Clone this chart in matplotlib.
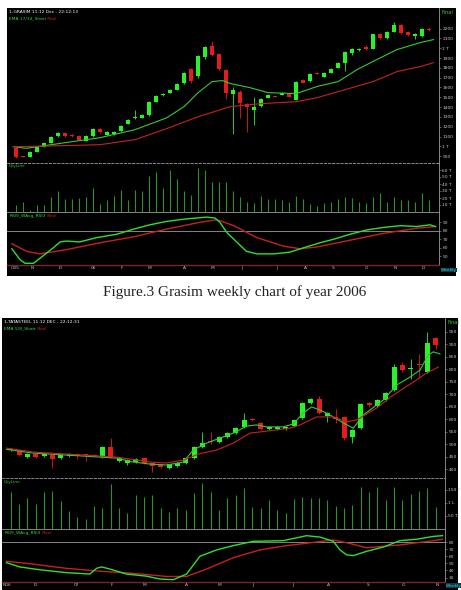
import numpy as np
import matplotlib.pyplot as plt

# %% data
# Grasim (top chart), 60 weeks
g_open = [986, 900, 894, 945, 996, 1037, 1108, 1139, 1120, 1108, 1058, 1108, 1180, 1120, 1125,
          1160, 1230, 1285, 1290, 1320, 1455, 1525, 1547, 1578, 1650, 1790, 1720, 1915, 2026, 1945,
          1780, 1530, 1557, 1435, 1374, 1415, 1496, 1515, 1527, 1537, 1476, 1680, 1670, 1752, 1710,
          1750, 1800, 1853, 1955, 1982, 2010, 1995, 2150, 2100, 2170, 2240, 2170, 2120, 2120, 2192]
g_close = [894, 893, 945, 996, 1037, 1098, 1139, 1108, 1108, 1068, 1108, 1180, 1150, 1150, 1150,
           1210, 1270, 1295, 1320, 1455, 1515, 1535, 1578, 1640, 1750, 1670, 1925, 2015, 1935, 1790,
           1547, 1570, 1445, 1405, 1405, 1486, 1527, 1505, 1547, 1506, 1660, 1650, 1740, 1740, 1750,
           1790, 1853, 1965, 1995, 1988, 1990, 2140, 2100, 2170, 2240, 2160, 2130, 2150, 2200, 2182]
g_high = [1000, 905, 950, 1000, 1045, 1105, 1150, 1145, 1125, 1112, 1112, 1185, 1190, 1155, 1155,
          1215, 1275, 1370, 1330, 1460, 1520, 1545, 1585, 1645, 1760, 1800, 1935, 2025, 2070, 1955,
          1790, 1600, 1570, 1440, 1500, 1495, 1535, 1520, 1555, 1545, 1670, 1690, 1745, 1760, 1755,
          1795, 1860, 1970, 2000, 2000, 2030, 2145, 2160, 2180, 2270, 2245, 2180, 2155, 2210, 2215]
g_low = [880, 888, 890, 940, 990, 1030, 1100, 1100, 1100, 1060, 1050, 1100, 1140, 1115, 1120,
         1150, 1225, 1280, 1285, 1310, 1450, 1515, 1540, 1570, 1640, 1650, 1700, 1890, 1925, 1780,
         1480, 1130, 1290, 1150, 1220, 1405, 1490, 1500, 1520, 1500, 1470, 1645, 1660, 1735, 1705,
         1745, 1795, 1770, 1930, 1975, 1985, 1990, 2095, 2095, 2165, 2140, 2120, 2090, 2115, 2180]
g_vol = [10, 14, 3, 10, 10, 21, 30, 18, 18, 20, 22, 34, 12, 17, 23, 32, 17, 32, 30, 52,
         57, 34, 60, 47, 30, 24, 63, 60, 43, 43, 43, 30, 21, 15, 13, 23, 18, 19, 17, 15,
         23, 18, 12, 9, 13, 14, 19, 22, 20, 14, 13, 21, 27, 14, 21, 17, 17, 15, 27, 17]
g_ema_s_wk = [-0.4, 1.5, 7, 12, 17, 21.5, 24, 26, 28, 29.5, 30.6, 33.4, 36, 40, 43, 46, 48.7, 51.5, 54.4, 57.7, 59.6]
g_ema_s = [996, 980, 1037, 1088, 1170, 1290, 1405, 1547, 1660, 1670, 1640, 1598, 1547, 1537, 1610, 1660, 1782, 1884, 1986, 2057, 2088]
g_ema_l_wk = [-0.4, 7, 12, 17, 21.5, 26, 30.6, 35, 40, 43, 47, 51, 54.4, 57.7, 59.6]
g_ema_l = [996, 1007, 1017, 1068, 1180, 1302, 1405, 1435, 1455, 1496, 1578, 1660, 1762, 1812, 1853]
g_rsi_wk = [-0.6, 0.6, 1.3, 2.5, 3.9, 5.3, 6.3, 7.2, 9.1, 11.5, 14.4, 16.8, 19.1, 21.5, 24.4, 27.2, 28.4,
            29.1, 30.1, 31.5, 32.9, 34.4, 36.8, 39.1, 41.0, 43.4, 45.3, 47.7, 50.1, 52.5, 54.9, 57.2, 59.1, 59.9]
g_rsi = [59, 46, 42, 42, 51, 60, 67, 68, 67, 72, 76, 82, 87, 91, 94, 96, 95,
         90, 78, 67, 56, 53, 53, 55, 60, 66, 70, 76, 81, 84, 86, 85, 87, 85]
g_avg_wk = [-0.6, 1.5, 3.4, 7.2, 12, 16.8, 21.5, 26.3, 28.7, 31.1, 34.4, 38.2, 40.6, 42.9, 47.7, 52.5, 57.2, 59.9]
g_avg = [65, 56, 53, 58, 66, 73, 82, 90, 93, 86, 72, 62, 59, 61, 69, 77, 83, 85]
g_month_wk = [-0.1, 2.3, 6.3, 11.0, 15.1, 19.1, 24.1, 28.1, 32.3, 37.3, 41.3, 45.3, 50.1, 54.1, 58.1]
g_months = ["O05", "N", "D", "06", "F", "M", "A", "M", "J", "J", "A", "S", "O", "N", "D"]

# Tata Steel (bottom chart), 52 weeks
t_open = [475, 476, 450, 462, 452, 458, 446, 452, 462, 458, 458, 448, 488, 432, 424, 428, 444, 424,
          420, 404, 412, 424, 444, 488, 512, 508, 528, 544, 568, 602, 585, 560, 560, 562, 573, 605,
          665, 681, 613, 610, 609, 528, 564, 665, 653, 677, 717, 817, 803, 822, 789, 926]
t_close = [481, 456, 462, 450, 460, 442, 458, 462, 452, 455, 453, 488, 448, 444, 436, 440, 424, 414,
           410, 420, 426, 444, 490, 504, 508, 528, 544, 564, 597, 598, 560, 570, 570, 570, 597, 665,
           681, 625, 625, 602, 524, 556, 661, 655, 677, 705, 809, 797, 807, 818, 906, 898]
t_high = [484, 478, 464, 464, 466, 460, 460, 464, 464, 460, 460, 492, 524, 448, 440, 444, 446, 426,
          422, 422, 428, 446, 494, 548, 548, 532, 548, 568, 625, 606, 590, 574, 574, 574, 600, 668,
          686, 694, 630, 640, 612, 560, 665, 668, 682, 710, 820, 830, 840, 860, 950, 930]
t_low = [472, 452, 446, 446, 448, 404, 442, 448, 440, 432, 448, 446, 444, 428, 416, 424, 420, 390,
         406, 400, 408, 420, 440, 484, 500, 504, 524, 540, 564, 594, 556, 556, 556, 558, 570, 600,
         660, 620, 590, 585, 515, 505, 560, 650, 650, 673, 712, 790, 760, 770, 785, 880]
t_vol = [141, 96, 118, 96, 142, 146, 109, 69, 47, 38, 88, 79, 173, 82, 63, 129, 123, 132, 79, 65,
         79, 73, 137, 176, 142, 73, 118, 129, 158, 85, 79, 112, 73, 63, 115, 122, 118, 118, 110, 90,
         81, 92, 160, 141, 160, 110, 163, 112, 135, 145, 156, 83]
t_ema_s_wk = [-0.5, 2.7, 6.7, 10.7, 12.7, 14.7, 16.7, 18.7, 20.7, 21.9, 23.5, 25.1, 26.7, 28.3, 29.5, 30.7,
              32.7, 33.9, 35.1, 36.1, 37.1, 38.3, 39.9, 41.1, 42.3, 44.7, 46.3, 47.9, 49.1, 50.1, 50.7, 51.5]
t_ema_s = [479, 464, 456, 448, 444, 428, 420, 416, 428, 476, 504, 524, 544, 572, 577, 569,
           569, 581, 625, 649, 637, 617, 585, 564, 617, 677, 737, 769, 797, 858, 870, 862]
t_ema_l_wk = [-0.5, 2.7, 10.7, 12.7, 16.7, 18.7, 20.7, 22.7, 24.7, 26.7, 28.7, 30.7, 33.5, 34.7, 36.7, 38.7,
              40.3, 41.5, 43.9, 45.9, 48.3, 49.9, 51.3]
t_ema_l = [484, 468, 452, 448, 428, 424, 436, 462, 476, 504, 544, 552, 564, 577, 609, 609,
           589, 597, 645, 697, 749, 785, 809]
t_rsi_wk = [-0.5, 1.1, 3.5, 6.7, 9.5, 10.3, 10.9, 11.9, 13.9, 16.3, 17.9, 19.5, 21.1, 22.7, 24.7, 26.7,
            29.1, 32.7, 35.5, 37.1, 38.7, 39.5, 40.3, 41.1, 42.7, 44.7, 46.7, 48.7, 50.7, 51.8]
t_rsi = [51, 45, 41, 37, 35, 43, 45, 42, 35, 32, 28, 27, 35, 60, 69, 75,
         81, 82, 89, 87, 81, 69, 62, 61, 67, 73, 82, 84, 88, 89]
t_avg_wk = [-0.5, 2.7, 6.7, 10.7, 14.7, 18.7, 21.1, 23.5, 26.7, 29.9, 33.1, 36.3, 38.7, 40.7, 42.7, 46.7, 50.7, 51.8]
t_avg = [53, 49, 43, 39, 36, 31.6, 31.6, 42, 58, 69, 75, 79.5, 83, 78, 72, 76, 82, 84]
t_month_wk = [-0.5, 2.9, 7.9, 12.1, 16.1, 21.1, 25.1, 29.1, 33.9, 38.1, 42.9, 47.1, 51.2]
t_months = ["N06", "D", "07", "F", "M", "A", "M", "J", "J", "A", "S", "O", "N"]

W, H = 461, 590
fig = plt.figure(figsize=(W / 100, H / 100), dpi=100)
fig.patch.set_facecolor("white")

UP = "#2af22a"
DOWN = "#e41c1c"
MA_G = "#35c935"
MA_R = "#c62222"
VOL = "#2f8f2f"
GREY = "#9a9a9a"
TXT = "#c8c8c8"
FS = 3.2


def rect(x0, y0, x1, y1):
    return [x0 / W, 1 - y1 / H, (x1 - x0) / W, (y1 - y0) / H]


def px_axes(x0, y0, x1, y1):
    ax = fig.add_axes(rect(x0, y0, x1, y1))
    ax.set_facecolor("none")
    for s in ["left", "top"]:
        ax.spines[s].set_visible(False)
    ax.spines["right"].set_color(GREY)
    ax.spines["right"].set_linewidth(0.6)
    ax.spines["bottom"].set_color(GREY)
    ax.spines["bottom"].set_linewidth(0.6)
    ax.yaxis.tick_right()
    ax.tick_params(axis="y", colors=GREY, labelcolor=TXT, labelsize=FS, length=1.5, width=0.4, pad=1)
    ax.tick_params(axis="x", length=0, labelbottom=False)
    return ax


def chart(box, axis_x, splits, xl, o, h, l, c, vol, es_wk, es, el_wk, el,
          r_wk, r, a_wk, a, m_wk, months, pylim, pticks, plabels,
          vylim, vticks, vlabels, rylim, rticks, title, ema_name, weekly_xy):
    x0, y0, x1, y1 = box
    bg = fig.add_axes(rect(x0, y0, x1, y1))
    bg.set_facecolor("black")
    bg.set_xticks([])
    bg.set_yticks([])
    for s in bg.spines.values():
        s.set_visible(False)

    wk = np.arange(len(o))
    o, h, l, c = map(np.array, (o, h, l, c))
    up = c >= o
    colors = np.where(up, UP, DOWN)

    # price panel
    ax = px_axes(x0, y0, axis_x, splits[0])
    ax.spines["bottom"].set_linestyle((0, (3, 2)))
    ax.vlines(wk, l, h, colors=colors, lw=0.6)
    body = np.maximum(np.abs(c - o), (pylim[1] - pylim[0]) * 0.006)
    ax.bar(wk, body, bottom=np.minimum(o, c), width=0.6, color=colors, lw=0)
    ax.plot(es_wk, es, color=MA_G, lw=0.8)
    ax.plot(el_wk, el, color=MA_R, lw=0.8)
    ax.set_xlim(xl)
    ax.set_ylim(pylim)
    ax.set_yticks(pticks)
    ax.set_yticklabels(plabels)
    ax.text(0.005, 0.985, title, transform=ax.transAxes, color="white", fontsize=FS, va="top")
    t = ax.text(0.005, 0.945, ema_name, transform=ax.transAxes, color="#33dd33", fontsize=FS, va="top")
    ax.annotate(" Red", xycoords=t, xy=(1, 0), va="bottom", color=DOWN, fontsize=FS)
    ax.text(1.005, 0.985, "Final", transform=ax.transAxes, color="#33cc33", fontsize=FS + 0.5, va="top")

    # volume panel
    axv = px_axes(x0, splits[0], axis_x, splits[1])
    axv.vlines(wk, 0, vol, colors=VOL, lw=0.8)
    axv.set_xlim(xl)
    axv.set_ylim(vylim)
    axv.set_yticks(vticks)
    axv.set_yticklabels(vlabels)
    axv.text(0.005, 0.97, "QtyLine", transform=axv.transAxes, color="#33cc33", fontsize=FS, va="top")

    # oscillator panel
    axr = px_axes(x0, splits[1], axis_x, splits[2])
    axr.spines["bottom"].set_color("#7a2525")
    axr.spines["bottom"].set_linestyle((0, (2, 1)))
    axr.spines["bottom"].set_linewidth(1.0)
    axr.axhline(80, color=GREY, lw=0.6)
    axr.plot(a_wk, a, color="#c62020", lw=1.0)
    axr.plot(r_wk, r, color="#2ee02e", lw=1.0)
    axr.set_xlim(xl)
    axr.set_ylim(rylim)
    axr.set_yticks(rticks)
    axr.set_yticklabels([str(v) for v in rticks])
    t2 = axr.text(0.005, 0.97, "RSI9_WAvg_RSI3", transform=axr.transAxes, color="#33dd33",
                  fontsize=FS, va="top")
    axr.annotate(" Red", xycoords=t2, xy=(1, 0), va="bottom", color=DOWN, fontsize=FS)
    axr.set_xticks(m_wk)
    axr.set_xticklabels(months)
    axr.tick_params(axis="x", labelbottom=True, colors=TXT, labelsize=FS, pad=1.0)
    fig.text(weekly_xy[0] / W, 1 - weekly_xy[1] / H, "Weekly", color="#22d0d0", fontsize=FS,
             va="center", bbox=dict(facecolor="#0b3a4a", edgecolor="none", pad=0.2))


chart((7, 8, 456, 276), 439, (163, 212, 265), (-1.29, 60.4),
      g_open, g_high, g_low, g_close, g_vol,
      g_ema_s_wk, g_ema_s, g_ema_l_wk, g_ema_l, g_rsi_wk, g_rsi, g_avg_wk, g_avg,
      g_month_wk, g_months, (830, 2410), list(range(900, 2300, 100)),
      ["900", "1 T", "1100", "1200", "1300", "1400", "1500", "1600", "1700", "1800", "1900",
       "2 T", "2100", "2200"],
      (0, 70), [10, 20, 30, 40, 50, 60], ["10 T", "20 T", "30 T", "40 T", "50 T", "60 T"],
      (40, 102), [50, 60, 70, 80, 90], "1-GRASIM 11:12 Dec - 22:12:13", "EMA 17/34_Short",
      (441, 270))

fig.text(235 / W, 1 - 292 / H, "Figure.3 Grasim weekly chart of year 2006", ha="center", va="center",
         fontsize=11, family="Liberation Serif", color="#222222")

chart((2, 318, 458, 590), 445, (478, 529, 582), (-1.04, 52.1),
      t_open, t_high, t_low, t_close, t_vol,
      t_ema_s_wk, t_ema_s, t_ema_l_wk, t_ema_l, t_rsi_wk, t_rsi, t_avg_wk, t_avg,
      t_month_wk, t_months, (364, 1006), list(range(400, 1000, 50)),
      [str(v) for v in range(400, 1000, 50)],
      (0, 196), [50, 100, 150], ["50 T", "1 L", "150 T"],
      (23.8, 98.4), [30, 40, 50, 60, 70, 80], "1-TATASTEEL 11:12 DEC - 22:12:31", "EMA 5/8_Short",
      (446, 585.5))

fig.savefig("out.png", dpi=100)
